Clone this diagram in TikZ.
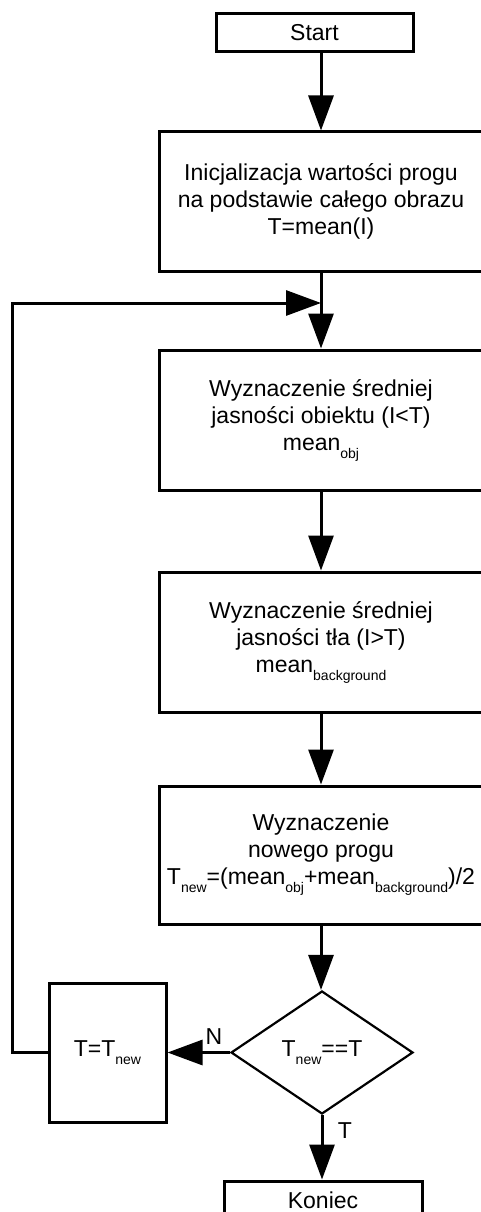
\documentclass[tikz,border=0pt]{standalone}
\usepackage{fontspec}
\setmainfont{Liberation Sans}
\usetikzlibrary{arrows.meta,shapes.geometric}
\newcommand\mysub[1]{\raisebox{-8pt}{\fontsize{14}{14}\selectfont #1}}
\tikzset{
  box/.style={draw, line width=3pt, rectangle, inner sep=0pt, align=center, font=\fontsize{23}{27}\selectfont},
  cond/.style={draw, line width=2.2pt, diamond, inner sep=0pt, align=center, font=\fontsize{23}{27}\selectfont},
  conn/.style={line width=3pt, -{Triangle[length=35pt,width=25pt]}},
  lbl/.style={font=\fontsize{23}{27}\selectfont, inner sep=0pt}
}
\begin{document}
\begin{tikzpicture}[x=1pt,y=-1pt]
\useasboundingbox (0,0) rectangle (481,1212);
\clip (0,0) rectangle (481,1212);
\node[box, minimum width=197pt, minimum height=38pt] (start) at (314.5,33) {Start};
\node[box, minimum width=324pt, minimum height=139pt] (init) at (321,201.5)
  {Inicjalizacja wartości progu\\na podstawie całego obrazu\\T=mean(I)};
\node[box, minimum width=324pt, minimum height=140pt] (obj) at (321,420)
  {Wyznaczenie średniej\\jasności obiektu (I<T)\\mean\mysub{obj}};
\node[box, minimum width=324pt, minimum height=140pt] (bg) at (321,642)
  {Wyznaczenie średniej\\jasności tła (I>T)\\mean\mysub{background}};
\node[box, minimum width=324pt, minimum height=138pt] (newT) at (321,855)
  {Wyznaczenie\\nowego progu\\T\mysub{new}=(mean\mysub{obj}+mean\mysub{background})/2};
\node[cond, minimum width=182pt, minimum height=123pt] (dec) at (322,1052.5) {T\mysub{new}==T};
\node[box, minimum width=117pt, minimum height=139pt] (tnew) at (107.5,1052.5) {T=T\mysub{new}};
\node[box, minimum width=198pt, minimum height=38pt] (koniec) at (323,1200) {Koniec};

\coordinate (fbb) at (12,1052.5);
\coordinate (fbt) at (12,303);
\coordinate (merge) at (321,303);

\draw[conn] (init.north |- start.south) -- (init.north);
\draw[conn] (init.south) -- (obj.north);
\draw[conn] (obj.south) -- (bg.north);
\draw[conn] (bg.south) -- (newT.north);
\draw[conn] (newT.south) -- (newT.south |- dec.north);
\draw[conn] (dec.west) -- (tnew.east);
\draw[conn] (dec.south) -- (dec.south |- koniec.north);
\draw[conn] (tnew.west) -- (fbb) -- (fbt) -- (merge);

\node[lbl] (nlab) at (214,1037) {N};
\node[lbl] (tlab) at (345,1131) {T};
\end{tikzpicture}
\end{document}
